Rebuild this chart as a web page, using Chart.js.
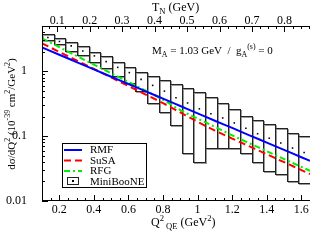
<!DOCTYPE html>
<html><head><meta charset="utf-8">
<script src="https://cdn.jsdelivr.net/npm/chart.js@4/dist/chart.umd.min.js"></script>
<style>html,body{margin:0;padding:0;overflow:hidden;background:#fff;width:310px;height:240px}
#wrap{width:314px;height:240px;position:relative}</style></head>
<body><div id="wrap"><canvas id="c" width="314" height="240" style="width:314px;height:240px"></canvas></div>
<script>
// ---- data ----
const q2Grid = [0.1,0.2,0.3,0.4,0.5,0.6,0.7,0.8,0.9,1.0,1.1,1.2,1.3,1.4,1.5,1.6,1.65];
const rmf  = [2.34,1.80,1.39,1.07,0.825,0.638,0.491,0.379,0.292,0.225,0.173,0.134,0.103,0.0796,0.0614,0.0473,0.0416];
const susa = [2.70,1.99,1.47,1.09,0.804,0.594,0.438,0.323,0.232,0.167,0.122,0.0918,0.0695,0.0526,0.0397,0.0300,0.0261];
const rfg  = [3.22,2.36,1.73,1.27,0.931,0.685,0.502,0.364,0.252,0.187,0.139,0.103,0.0776,0.0588,0.0443,0.0336,0.0292];

const binEdges = [0.100,0.1674,0.2348,0.3022,0.3696,0.4370,0.5043,0.5717,0.6391,0.7065,0.7739,0.8413,0.9087,0.9761,1.0435,1.1109,1.1783,1.2457,1.3130,1.3804,1.4478,1.5152,1.5826,1.650];
const binCenters = [0.134,0.201,0.269,0.336,0.403,0.471,0.538,0.605,0.673,0.740,0.808,0.875,0.942,1.010,1.077,1.145,1.212,1.279,1.347,1.414,1.481,1.549,1.616];
const miniboone = [3.33,2.89,2.47,2.06,1.73,1.41,1.15,0.955,0.751,0.607,0.495,0.391,0.325,0.264,0.221,0.191,0.160,0.132,0.109,0.093,0.0785,0.0656,0.0561];
const errHigh = [3.75,3.25,2.85,2.42,2.02,1.71,1.40,1.17,0.98,0.837,0.725,0.629,0.558,0.478,0.405,0.327,0.258,0.208,0.180,0.155,0.134,0.112,0.0993];
const errLow  = [3.06,2.62,2.06,1.77,1.39,1.11,0.837,0.652,0.49,0.319,0.24,0.151,0.0555,0.0402,0.0663,0.0663,0.0663,0.0555,0.0402,0.0292,0.0262,0.0204,0.019];

const xMajor = [0.2,0.4,0.6,0.8,1.0,1.2,1.4,1.6];
const xLabels = ['0.2','0.4','0.6','0.8','1','1.2','1.4','1.6'];
const tnMajor = [0.1,0.2,0.3,0.4,0.5,0.6,0.7,0.8];
const tnLabels = ['0.1','0.2','0.3','0.4','0.5','0.6','0.7','0.8'];
const yMajor = [0.01,0.1,1];
const yLabels = ['0.01','0.1','1'];
const legendNames = ['RMF','SuSA','RFG','MiniBooNE'];

const NUCLEON2M = 1.878; // Q2 = 2 M T_N
const X_MIN = 0.1, X_MAX = 1.65, Y_MIN = 0.01, Y_MAX = 5;
const FONT = "'Liberation Serif','DejaVu Serif',serif";

function labelFor(v, majors, labels){
  for(let i=0;i<majors.length;i++){ if(Math.abs(v-majors[i])<1e-6*Math.max(1,majors[i])) return labels[i]; }
  return '';
}
// minor tick positions
const xTicks=[]; for(let k=2;k<=33;k++){ xTicks.push(+(k*0.05).toFixed(4)); }
const tnTicks=[]; for(let k=3;k<=35;k++){ tnTicks.push(+(k*0.025).toFixed(4)); }
const yTicks=[]; [0.01,0.1,1].forEach(d=>{ for(let m=1;m<=9;m++){ const v=+(d*m).toPrecision(3); if(v<=Y_MAX+1e-9) yTicks.push(v);} });

function rich(ctx, parts, x, y, size, align){
  const fontOf = p => (p[1]? (size*0.72).toFixed(1) : size) + 'px ' + FONT;
  let w=0;
  parts.forEach(p=>{ctx.font=fontOf(p); w+=ctx.measureText(p[0]).width;});
  let cx = align==='center' ? x-w/2 : x;
  parts.forEach(p=>{
    ctx.font=fontOf(p);
    const dy = p[1]===1 ? -size*0.42 : (p[1]===-1 ? size*0.28 : 0);
    ctx.fillText(p[0], cx, y+dy);
    cx += ctx.measureText(p[0]).width;
  });
}

const boxesPlugin = {
  id:'boxes',
  beforeDatasetsDraw(chart){
    const ctx=chart.ctx, a=chart.chartArea, xs=chart.scales.x, ys=chart.scales.y;
    ctx.save();
    ctx.beginPath(); ctx.rect(a.left,a.top,a.right-a.left,a.bottom-a.top); ctx.clip();
    for(let i=0;i<miniboone.length;i++){
      const x0=Math.round(xs.getPixelForValue(binEdges[i])), x1=Math.round(xs.getPixelForValue(binEdges[i+1]));
      const yt=Math.round(ys.getPixelForValue(errHigh[i])), yb=Math.round(ys.getPixelForValue(errLow[i]));
      ctx.lineWidth=1;
      ctx.strokeStyle='#9a9a9a';
      ctx.strokeRect(x0+1.5, yt+1.5, x1-x0, yb-yt);
      ctx.strokeStyle='#222';
      ctx.strokeRect(x0+0.5, yt+0.5, x1-x0, yb-yt);
    }
    ctx.restore();
  }
};

const decoPlugin = {
  id:'deco',
  afterDraw(chart){
    const ctx=chart.ctx, a=chart.chartArea;
    const xs=chart.scales.x, x2=chart.scales.x2, ys=chart.scales.y;
    ctx.save();
    ctx.strokeStyle='#000'; ctx.lineWidth=1;
    // frame
    ctx.strokeRect(Math.round(a.left)+0.5, Math.round(a.top)+0.5, Math.round(a.right-a.left), Math.round(a.bottom-a.top)-1);
    // inward ticks
    ctx.beginPath();
    xs.ticks.forEach(t=>{ const p=Math.round(xs.getPixelForValue(t.value))+0.5; const L=labelFor(t.value,xMajor,xLabels)?6:3; ctx.moveTo(p,a.bottom); ctx.lineTo(p,a.bottom-L); });
    x2.ticks.forEach(t=>{ const p=Math.round(x2.getPixelForValue(t.value))+0.5; const L=labelFor(t.value,tnMajor,tnLabels)?6:3; ctx.moveTo(p,a.top); ctx.lineTo(p,a.top+L); });
    ys.ticks.forEach(t=>{ const p=Math.round(ys.getPixelForValue(t.value))+0.5; const L=labelFor(t.value,yMajor,yLabels)?6:3; ctx.moveTo(a.left,p); ctx.lineTo(a.left+L,p); });
    ctx.stroke();

    // x tick labels (bottom and top)
    ctx.fillStyle='#000'; ctx.font='12px '+FONT; ctx.textAlign='center'; ctx.textBaseline='alphabetic';
    xs.ticks.forEach(t=>{ const l=labelFor(t.value,xMajor,xLabels); if(l) ctx.fillText(l, xs.getPixelForValue(t.value), 213); });
    x2.ticks.forEach(t=>{ const l=labelFor(t.value,tnMajor,tnLabels); if(l) ctx.fillText(l, x2.getPixelForValue(t.value), 24); });

    ctx.textAlign='left';
    // axis titles
    rich(ctx, [['Q',0],['2',1],[' QE',-1],[' (GeV',0],['2',1],[')',0]], 151, 226, 12, 'left');
    rich(ctx, [['T',0],['N',-1],[' (GeV)',0]], 152, 11, 12, 'left');
    ctx.save(); ctx.translate(15, 114); ctx.rotate(-Math.PI/2);
    rich(ctx, [['d\u03c3/dQ',0],['2',1],[' (10',0],['-39',1],[' cm',0],['2',1],['/GeV',0],['2',1],[')',0]], 0, 0, 11, 'center');
    ctx.restore();
    // annotation
    rich(ctx, [['M',0],['A',-1],[' = 1.03 GeV  /  g',0],['A',-1],['(s)',1],[' = 0',0]], 152, 54, 11, 'left');

    // legend
    const lx=62, ly=143, lw=84, lh=44;
    ctx.fillStyle='#fff'; ctx.fillRect(lx,ly,lw,lh);
    ctx.strokeStyle='#000'; ctx.lineWidth=1; ctx.strokeRect(lx+0.5,ly+0.5,lw,lh);
    const rows=[150,160.5,171,181.5];
    const ds=chart.data.datasets;
    for(let i=0;i<3;i++){
      ctx.strokeStyle=ds[i].borderColor; ctx.lineWidth=2; ctx.setLineDash(ds[i].borderDash||[]);
      ctx.beginPath(); ctx.moveTo(64,rows[i]); ctx.lineTo(82,rows[i]); ctx.stroke();
    }
    ctx.setLineDash([]);
    ctx.strokeStyle='#222'; ctx.lineWidth=1; ctx.strokeRect(67.5,177.5,11,7);
    ctx.fillStyle='#000'; ctx.fillRect(72,180,2,2);
    ctx.font='11px '+FONT; ctx.fillStyle='#000'; ctx.textBaseline='middle';
    legendNames.forEach((n,i)=>ctx.fillText(n, 90, rows[i]+0.5));
    ctx.restore();
  }
};

const tickFont = {family:FONT, size:12};
new Chart(document.getElementById('c'), {
  type:'scatter',
  data:{datasets:[
    {label:legendNames[0], data:q2Grid.map((q,i)=>({x:q,y:rmf[i]})), showLine:true, borderColor:'#0000ff', borderWidth:2, pointRadius:0, cubicInterpolationMode:'monotone'},
    {label:legendNames[1], data:q2Grid.map((q,i)=>({x:q,y:susa[i]})), showLine:true, borderColor:'#ff0000', borderWidth:2, borderDash:[7,4], pointRadius:0, cubicInterpolationMode:'monotone'},
    {label:legendNames[2], data:q2Grid.map((q,i)=>({x:q,y:rfg[i]})), showLine:true, borderColor:'#00ee00', borderWidth:2, borderDash:[6,3,2,3], pointRadius:0, cubicInterpolationMode:'monotone'},
    {label:legendNames[3], data:binCenters.map((q,i)=>({x:q,y:miniboone[i]})), showLine:false, pointStyle:'rect', pointRadius:1.1, backgroundColor:'#000', borderWidth:0}
  ]},
  options:{
    responsive:false, animation:false, devicePixelRatio:1,
    layout:{padding:{left:0,right:2,top:0,bottom:0}},
    plugins:{legend:{display:false}, tooltip:{enabled:false}},
    scales:{
      x:{type:'linear', position:'bottom', min:X_MIN, max:X_MAX,
        grid:{display:false}, border:{display:false},
        afterBuildTicks:s=>{s.ticks=xTicks.map(v=>({value:v}));},
        afterFit:s=>{s.height=39;},
        ticks:{display:false, autoSkip:false, maxRotation:0, callback:v=>labelFor(v,xMajor,xLabels)}},
      x2:{type:'linear', position:'top', min:X_MIN/NUCLEON2M, max:X_MAX/NUCLEON2M,
        grid:{display:false}, border:{display:false},
        afterBuildTicks:s=>{s.ticks=tnTicks.map(v=>({value:v}));},
        afterFit:s=>{s.height=26;},
        ticks:{display:false, autoSkip:false, maxRotation:0, callback:v=>labelFor(v,tnMajor,tnLabels)}},
      y:{type:'logarithmic', position:'left', min:Y_MIN, max:Y_MAX,
        grid:{display:false}, border:{display:false},
        afterBuildTicks:s=>{s.ticks=yTicks.map(v=>({value:v}));},
        afterFit:s=>{s.width=42;},
        ticks:{autoSkip:false, padding:7, color:'#000', font:tickFont, callback:v=>labelFor(v,yMajor,yLabels)}}
    }
  },
  plugins:[boxesPlugin, decoPlugin]
});
</script></body></html>
